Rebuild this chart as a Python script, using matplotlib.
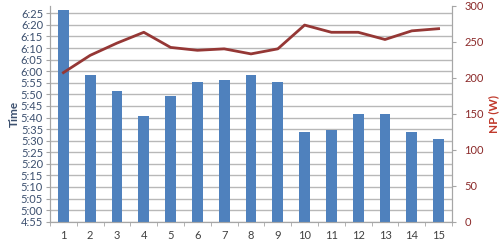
import matplotlib
matplotlib.use('Agg')
import matplotlib.pyplot as plt
from matplotlib.ticker import FuncFormatter

plt.rcParams['font.family'] = ['Lato', 'DejaVu Sans']

# data
rides = list(range(1, 16))
times = ['6:26:25', '5:58:20', '5:51:35', '5:40:30', '5:49:25', '5:55:25', '5:56:20',
         '5:58:20', '5:55:25', '5:33:35', '5:34:30', '5:41:30', '5:41:30', '5:33:35', '5:30:35']
np_watts = [207, 231, 248, 263, 242, 238, 240, 233, 240, 273, 263, 263, 253, 265, 268]


def to_minutes(s):
    h, m, sec = (int(v) for v in s.split(':'))
    return h * 60 + m + sec / 60


def fmt_time(v, pos):
    v = int(round(v))
    return f"{v // 60}:{v % 60:02d}"


minutes = [to_minutes(t) for t in times]
ymin, ymax = 295, 388.3

fig = plt.figure(figsize=(5, 2.45), dpi=100)
ax = fig.add_axes([0.1, 0.095, 0.804, 0.882])
ax2 = ax.twinx()

grid_c = '#B8B8B8'
axis_c = '#A6A6A6'
left_c = '#3B4F6E'
right_c = '#8B2A2A'

ax.bar(rides, [m - ymin for m in minutes], bottom=ymin, width=0.41, color='#4F81BD', zorder=3)
ax.set_xlim(0.5, 15.5)
ax.set_ylim(ymin, ymax)
ax.set_yticks(list(range(295, 390, 5)))
ax.yaxis.set_major_formatter(FuncFormatter(fmt_time))
ax.grid(axis='y', color=grid_c, linewidth=1, zorder=0)
ax.set_axisbelow(True)

ax.set_xticks(rides)
ax.set_xticks([r + 0.5 for r in range(0, 16)], minor=True)
ax.tick_params(axis='x', which='major', length=0, labelsize=8, labelcolor='#404040', pad=6)
ax.tick_params(axis='x', which='minor', length=3, color=axis_c, direction='out')
ax.tick_params(axis='y', length=3, color=axis_c, labelsize=8, labelcolor=left_c, pad=2)
ax.set_ylabel('Time', color=left_c, fontsize=8.5, fontweight='bold', labelpad=1)

ax2.plot(rides, np_watts, color='#953735', linewidth=2, zorder=4)
ax2.set_ylim(0, 300)
ax2.set_yticks(range(0, 301, 50))
ax2.tick_params(axis='y', length=3, color=axis_c, labelsize=8, labelcolor=right_c, pad=6)
ax2.set_ylabel('NP (W)', color='#C0392B', fontsize=8.5, fontweight='bold', labelpad=3)

for a in (ax, ax2):
    a.spines['top'].set_visible(False)
    a.spines['left'].set_color(axis_c)
    a.spines['right'].set_color(axis_c)
    a.spines['bottom'].set_color(axis_c)

fig.savefig('out.png', dpi=100, facecolor='white')
plt.close(fig)
